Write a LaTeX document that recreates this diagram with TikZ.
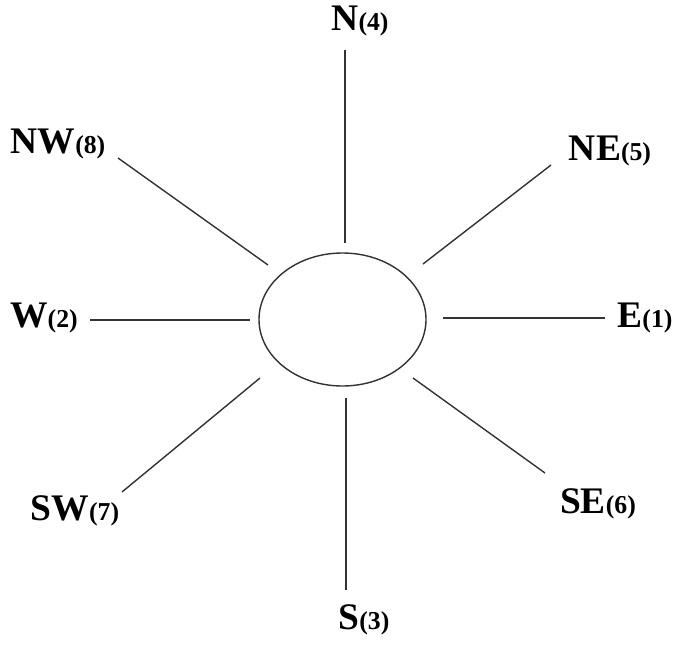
\documentclass[tikz,border=0pt]{standalone}
\usepackage{fontspec}
\setmainfont{Liberation Serif}
\usetikzlibrary{shapes.geometric}
\newcommand{\dirlbl}[2]{\fontsize{32}{34}\selectfont\bfseries #1{\fontsize{22}{24}\selectfont(#2)}}

\begin{document}
\begin{tikzpicture}[x=0.03cm,y=-0.03cm, ray/.style={draw=black!80,line width=1.2pt}, dir/.style={inner sep=0pt,anchor=base}]
\useasboundingbox (0,0) rectangle (676,645);
\node[draw=black!80, line width=1.2pt, ellipse, minimum width=5.01cm, minimum height=3.99cm, inner sep=0pt] (hub) at (342.5,319.5) {};

\node[dir] (n) at (360,30) {\dirlbl{N}{4}};
\node[dir] (ne) at (610,160) {\dirlbl{NE}{5}};
\node[dir] (e) at (645,327) {\dirlbl{E}{1}};
\node[dir] (se) at (598,513) {\dirlbl{SE}{6}};
\node[dir] (s) at (364,629) {\dirlbl{S}{3}};
\node[dir] (sw) at (75,520) {\dirlbl{SW}{7}};
\node[dir] (w) at (44,327) {\dirlbl{W}{2}};
\node[dir] (nw) at (58,153) {\dirlbl{NW}{8}};

\coordinate (n1) at (345,50);  \coordinate (n2) at (345,243);
\coordinate (ne1) at (551,165); \coordinate (ne2) at (423,264);
\coordinate (e1) at (605,318); \coordinate (e2) at (443,318);
\coordinate (se1) at (545,473); \coordinate (se2) at (413,378);
\coordinate (s1) at (346,590); \coordinate (s2) at (346,398);
\coordinate (sw1) at (122,492); \coordinate (sw2) at (260,378);
\coordinate (w1) at (90,320);  \coordinate (w2) at (250,320);
\coordinate (nw1) at (118,158); \coordinate (nw2) at (268,265);

\draw[ray] (n1) -- (n2);
\draw[ray] (ne1) -- (ne2);
\draw[ray] (e1) -- (e2);
\draw[ray] (se1) -- (se2);
\draw[ray] (s1) -- (s2);
\draw[ray] (sw1) -- (sw2);
\draw[ray] (w1) -- (w2);
\draw[ray] (nw1) -- (nw2);

\end{tikzpicture}
\end{document}
